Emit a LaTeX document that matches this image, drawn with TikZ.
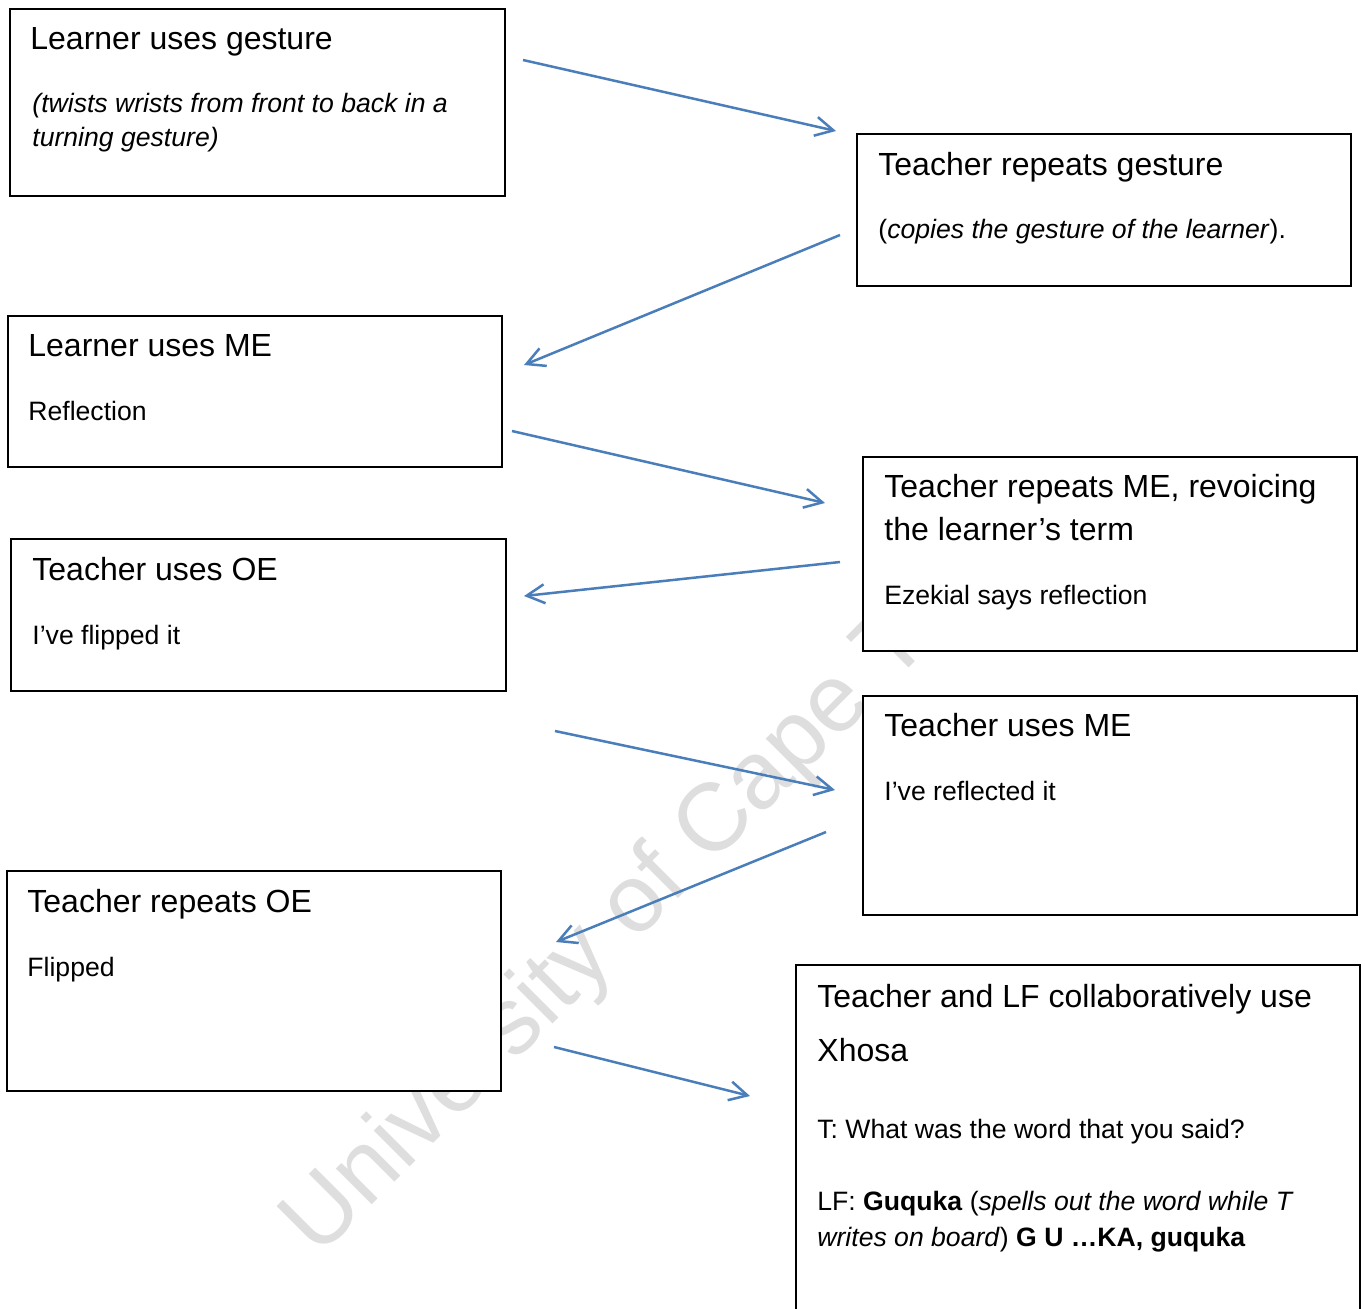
\documentclass[tikz,border=0pt]{standalone}
\usepackage{fontspec}
\setmainfont{Liberation Sans}
\usetikzlibrary{arrows.meta}
\definecolor{arrowblue}{RGB}{74,126,187}
\definecolor{markgray}{RGB}{222,222,222}
\begin{document}
\begin{tikzpicture}[x=0.5pt,y=-0.5pt,
		box/.style={draw=black, fill=white, line width=1pt, inner sep=0pt, outer sep=0pt},
		ttl/.style={anchor=base west, inner sep=0pt, font=\fontsize{16pt}{19pt}\selectfont},
		txt/.style={anchor=base west, inner sep=0pt, font=\fontsize{13.3pt}{16pt}\selectfont},
		flow/.style={draw=arrowblue, line width=1.25pt, -{Straight Barb[length=9pt,width=9.5pt]}}]
		\clip (0,0) rectangle (1365,1308);
		\fill[white] (0,0) rectangle (1365,1308);
		
		% watermark
		\node[anchor=base west, inner sep=0pt, rotate=45, text=markgray, font=\fontsize{48pt}{56pt}\selectfont] (mark) at (318,1259) {University of Cape Town};
		
		% boxes
		\node[box, minimum width=247.5pt, minimum height=93.5pt] (lgest) at (257.5,102.5) {};
		\node[box, minimum width=247pt, minimum height=76pt] (trgest) at (1104,210) {};
		\node[box, minimum width=247pt, minimum height=75.5pt] (lme) at (255,391.5) {};
		\node[box, minimum width=247pt, minimum height=97pt] (trme) at (1110,554) {};
		\node[box, minimum width=247.5pt, minimum height=76pt] (toe) at (258.5,615) {};
		\node[box, minimum width=247pt, minimum height=109.5pt] (tme) at (1110,805.5) {};
		\node[box, minimum width=247pt, minimum height=110pt] (troe) at (254,981) {};
		\node[box, minimum width=282pt, minimum height=187.5pt] (tlf) at (1078,1152.5) {};
		
		% texts
		\node[ttl] (lgest-t) at (30,49) {Learner uses gesture};
		\node[txt] (lgest-a) at (32,112) {\itshape (twists wrists from front to back in a};
		\node[txt] (lgest-b) at (32,146) {\itshape turning gesture)};
		
		\node[ttl] (trgest-t) at (878,175) {Teacher repeats gesture};
		\node[txt] (trgest-a) at (878,238) {(\textit{copies the gesture of the learner}).};
		
		\node[ttl] (lme-t) at (28,356) {Learner uses ME};
		\node[txt] (lme-a) at (28,420) {Reflection};
		
		\node[ttl] (trme-t) at (884,497) {Teacher repeats ME, revoicing};
		\node[ttl] (trme-u) at (884,540) {the learner’s term};
		\node[txt] (trme-a) at (884,604) {Ezekial says reflection};
		
		\node[ttl] (toe-t) at (32,580) {Teacher uses OE};
		\node[txt] (toe-a) at (32,644) {I’ve flipped it};
		
		\node[ttl] (tme-t) at (884,736) {Teacher uses ME};
		\node[txt] (tme-a) at (884,800) {I’ve reflected it};
		
		\node[ttl] (troe-t) at (27,912) {Teacher repeats OE};
		\node[txt] (troe-a) at (27,976) {Flipped};
		
		\node[ttl] (tlf-t) at (817,1007) {Teacher and LF collaboratively use};
		\node[ttl] (tlf-u) at (817,1061) {Xhosa};
		\node[txt] (tlf-a) at (817,1138) {T: What was the word that you said?};
		\node[txt] (tlf-b) at (817,1210) {LF: \textbf{Guquka} (\textit{spells out the word while T}};
		\node[txt] (tlf-c) at (817,1246) {\textit{writes on board}) \textbf{G U …KA, guquka}};
		
		% arrows
		\coordinate (a1s) at (523,60);   \coordinate (a1e) at (836,131);
		\coordinate (a2s) at (840,235);  \coordinate (a2e) at (524,365);
		\coordinate (a3s) at (512,431);  \coordinate (a3e) at (825,503);
		\coordinate (a4s) at (840,562);  \coordinate (a4e) at (524,596);
		\coordinate (a5s) at (555,731);  \coordinate (a5e) at (835,790);
		\coordinate (a6s) at (826,832);  \coordinate (a6e) at (556,942);
		\coordinate (a7s) at (554,1047); \coordinate (a7e) at (750,1096);
		\draw[flow] (a1s) -- (a1e);
		\draw[flow] (a2s) -- (a2e);
		\draw[flow] (a3s) -- (a3e);
		\draw[flow] (a4s) -- (a4e);
		\draw[flow] (a5s) -- (a5e);
		\draw[flow] (a6s) -- (a6e);
		\draw[flow] (a7s) -- (a7e);
		
	\end{tikzpicture}
\end{document}
